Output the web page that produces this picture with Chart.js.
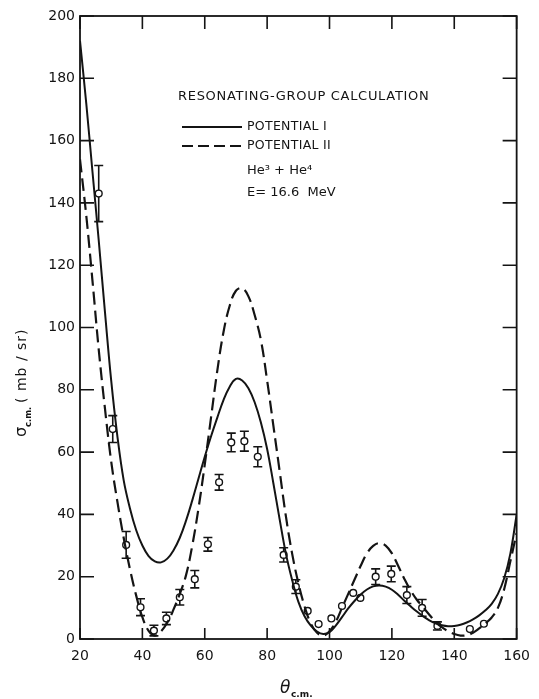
<!DOCTYPE html>
<html>
<head>
<meta charset="utf-8">
<script src="https://cdn.jsdelivr.net/npm/chart.js@4.4.0/dist/chart.umd.min.js"></script>
<style>
  html, body { margin: 0; padding: 0; background: #fff; }
</style>
</head>
<body>
<canvas id="chart" width="539" height="699"></canvas>
<script>
// theory curves, sampled every 2 degrees (theta c.m.)
const curveAngles = [
  20, 22, 24, 26, 28, 30, 32, 34, 36, 38, 40, 42, 44, 46, 48, 50, 52, 54, 56, 58,
  60, 62, 64, 66, 68, 70, 72, 74, 76, 78, 80, 82, 84, 86, 88, 90, 92, 94, 96, 98,
  100, 102, 104, 106, 108, 110, 112, 114, 116, 118, 120, 122, 124, 126, 128, 130,
  132, 134, 136, 138, 140, 142, 144, 146, 148, 150, 152, 154, 156, 158, 160,
];
const potentialI = [
  192, 172, 150, 128, 105, 83, 65, 51, 42, 35, 30, 26.6, 24.9, 24.6, 25.8, 28.5, 32.5, 38, 44.5, 51.5,
  58.5, 65, 71, 76.7, 81, 83.5, 83, 80.5, 76, 69.5, 61, 50, 38.5, 27.5, 19, 12, 7.3, 4.3, 2.4, 1.6,
  2.2, 4.3, 7, 9.8, 12.2, 14.3, 15.9, 16.9, 17.2, 16.8, 15.8, 14.2, 12.3, 10.5, 8.8, 7.3,
  6, 5, 4.4, 4.1, 4.2, 4.6, 5.3, 6.3, 7.6, 9.2, 11.3, 14.5, 19.5, 27.5, 40,
];
const potentialII = [
  154, 136, 115, 93, 74, 57, 44, 32.5, 22.5, 14, 7, 2.6, 1.1, 2.5, 5.3, 9.5, 14.5, 20.5, 30, 42,
  56, 71, 86, 98.5, 107, 111.8, 112.6, 110, 104, 96, 83, 68.5, 54, 39.5, 27.5, 18, 10.5, 5, 2, 1.1,
  2.5, 5.5, 10, 14.5, 19, 23.5, 27.5, 29.9, 30.8, 30, 27.5, 23.5, 19.3, 15.6, 12.6, 10.2,
  7.8, 5.5, 3.8, 2.5, 1.6, 1.1, 1.2, 2, 3.4, 5, 6.9, 10, 16, 25, 34,
];

// measured points with errors (0 = no bar drawn)
const dataAngles = [26, 30.5, 34.8, 39.4, 43.7, 47.7, 52, 56.8, 61, 64.6, 68.5, 72.7, 77, 85.3,
  89.2, 93, 96.5, 100.6, 104, 107.6, 109.9, 114.8, 119.8, 124.8, 129.7, 134.6, 145, 149.5];
const dataSigma = [143, 67.4, 30.2, 10.2, 2.7, 6.6, 13.4, 19.2, 30.4, 50.3, 63.1, 63.5, 58.5, 27,
  16.8, 9, 4.8, 6.6, 10.6, 14.8, 13.2, 20, 20.9, 14.1, 10, 4.2, 3.2, 4.9];
const dataError = [9, 4.3, 4.3, 2.7, 1.7, 2, 2.5, 2.8, 2.2, 2.5, 3, 3.2, 3.2, 2.3,
  2.2, 0, 0, 0, 0, 0, 0, 2.5, 2.5, 2.7, 2.7, 1.3, 0, 0];

const xTicks = [20, 40, 60, 80, 100, 120, 140, 160];
const yTicks = [0, 20, 40, 60, 80, 100, 120, 140, 160, 180, 200];

const legendTitle = "RESONATING-GROUP CALCULATION";
const legendLabels = ["POTENTIAL I", "POTENTIAL II"];
const reactionText = ["He³ + He⁴", "E= 16.6  MeV"];

const ink = "#141414";
const font = "'DejaVu Sans', sans-serif";

const errorBars = {
  id: "errorBars",
  beforeDatasetsDraw(chart) {
    const { ctx, scales: { x, y } } = chart;
    ctx.save();
    ctx.strokeStyle = ink;
    ctx.lineWidth = 1.6;
    dataAngles.forEach((a, i) => {
      const e = dataError[i];
      if (!e) return;
      const px = x.getPixelForValue(a);
      const top = y.getPixelForValue(dataSigma[i] + e);
      const bot = y.getPixelForValue(dataSigma[i] - e);
      ctx.beginPath();
      ctx.moveTo(px, top); ctx.lineTo(px, bot);
      ctx.moveTo(px - 4.5, top); ctx.lineTo(px + 4.5, top);
      ctx.moveTo(px - 4.5, bot); ctx.lineTo(px + 4.5, bot);
      ctx.stroke();
    });
    ctx.restore();
  },
};

const frameAndText = {
  id: "frameAndText",
  afterDraw(chart) {
    const { ctx, chartArea: a, scales: { x, y } } = chart;
    ctx.save();
    ctx.strokeStyle = ink;
    ctx.lineWidth = 1.8;
    ctx.strokeRect(a.left, a.top, a.right - a.left, a.bottom - a.top);

    // inward ticks on all four sides
    ctx.lineWidth = 1.6;
    ctx.beginPath();
    xTicks.forEach((v) => {
      const px = x.getPixelForValue(v);
      ctx.moveTo(px, a.bottom); ctx.lineTo(px, a.bottom - 11);
      ctx.moveTo(px, a.top); ctx.lineTo(px, a.top + 13);
    });
    yTicks.forEach((v) => {
      const py = y.getPixelForValue(v);
      ctx.moveTo(a.left, py); ctx.lineTo(a.left + 14, py);
      ctx.moveTo(a.right, py); ctx.lineTo(a.right - 14, py);
    });
    ctx.stroke();

    // legend block
    ctx.fillStyle = ink;
    ctx.textBaseline = "middle";
    ctx.font = "13px " + font;
    ctx.letterSpacing = "0.7px";
    ctx.fillText(legendTitle, 178, 97);
    ctx.letterSpacing = "0.3px";
    ctx.font = "12.5px " + font;
    ctx.fillText(legendLabels[0], 247, 127);
    ctx.fillText(legendLabels[1], 247, 146);
    ctx.lineWidth = 2;
    ctx.beginPath();
    ctx.moveTo(182, 127); ctx.lineTo(242, 127);
    ctx.stroke();
    ctx.setLineDash([11, 5]);
    ctx.beginPath();
    ctx.moveTo(182, 146); ctx.lineTo(242, 146);
    ctx.stroke();
    ctx.setLineDash([]);
    ctx.font = "13px " + font;
    ctx.letterSpacing = "0px";
    ctx.fillText(reactionText[0], 247, 171);
    ctx.fillText(reactionText[1], 247, 193);

    // y-axis title
    ctx.save();
    ctx.translate(26, 376);
    ctx.rotate(-Math.PI / 2);
    ctx.textAlign = "left";
    ctx.textBaseline = "alphabetic";
    ctx.font = "16px " + font;
    ctx.fillText("σ", -61, 0);
    ctx.font = "bold 8.5px " + font;
    ctx.fillText("c.m.", -51, 4.5);
    ctx.font = "14px " + font;
    ctx.letterSpacing = "1px";
    ctx.fillText("( mb / sr)", -27, 0);
    ctx.restore();

    // x-axis title
    ctx.textBaseline = "alphabetic";
    ctx.font = "italic 17px " + font;
    ctx.fillText("θ", 280, 693);
    ctx.font = "bold 9px " + font;
    ctx.fillText("c.m.", 291, 697);
    ctx.restore();
  },
};

new Chart(document.getElementById("chart"), {
  type: "scatter",
  data: {
    datasets: [
      {
        label: "Potential I",
        data: curveAngles.map((a, i) => ({ x: a, y: potentialI[i] })),
        showLine: true,
        borderColor: ink,
        borderWidth: 2,
        pointRadius: 0,
        tension: 0.4,
      },
      {
        label: "Potential II",
        data: curveAngles.map((a, i) => ({ x: a, y: potentialII[i] })),
        showLine: true,
        borderColor: ink,
        borderWidth: 2.2,
        borderDash: [13, 6],
        pointRadius: 0,
        tension: 0.4,
      },
      {
        label: "Experiment",
        data: dataAngles.map((a, i) => ({ x: a, y: dataSigma[i] })),
        showLine: false,
        pointRadius: 3.4,
        pointBackgroundColor: "#fff",
        pointBorderColor: ink,
        pointBorderWidth: 1.4,
      },
    ],
  },
  options: {
    responsive: false,
    animation: false,
    layout: { padding: { top: 16, right: 16, left: 0, bottom: 0 } },
    plugins: { legend: { display: false }, tooltip: { enabled: false } },
    scales: {
      x: {
        type: "linear",
        min: 20,
        max: 160,
        afterFit: (s) => { s.height = 60; },
        afterBuildTicks: (s) => { s.ticks = xTicks.map((v) => ({ value: v })); },
        grid: { display: false, drawTicks: false },
        border: { display: false },
        ticks: { color: ink, padding: 9, font: { family: font, size: 14 } },
      },
      y: {
        min: 0,
        max: 200,
        afterFit: (s) => { s.width = 80; },
        afterBuildTicks: (s) => { s.ticks = yTicks.map((v) => ({ value: v })); },
        grid: { display: false, drawTicks: false },
        border: { display: false },
        ticks: { color: ink, padding: 5, font: { family: font, size: 14 } },
      },
    },
  },
  plugins: [errorBars, frameAndText],
});
</script>
</body>
</html>
